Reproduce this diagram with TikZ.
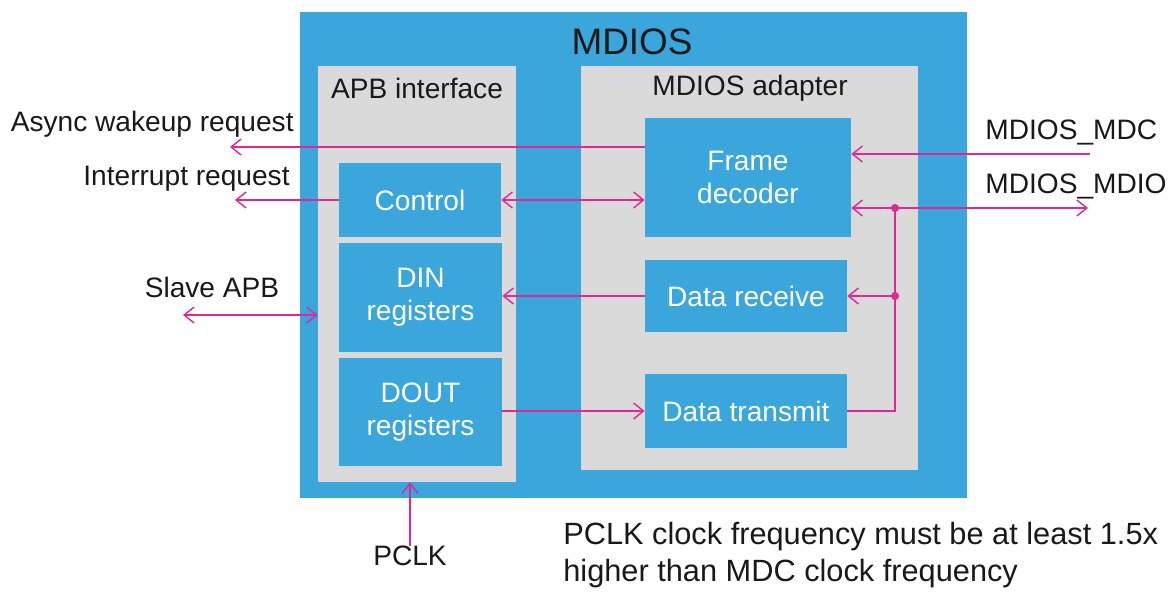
\documentclass[tikz,border=0pt]{standalone}
\usepackage{fontspec}
\setmainfont{Liberation Sans}
\usepackage{tikz}
\usetikzlibrary{calc,arrows,arrows.meta}
\definecolor{stblue}{RGB}{58,166,220}
\definecolor{stgrey}{RGB}{218,218,218}
\definecolor{sigpink}{RGB}{222,40,150}
\definecolor{txtdark}{RGB}{25,25,25}

\begin{document}
\begin{tikzpicture}[x=0.02cm,y=-0.02cm,
    blk/.style={fill=stblue,text=white,align=center,inner sep=0pt,
      font=\fontsize{16}{19}\selectfont},
    panel/.style={fill=stgrey,inner sep=0pt},
    lbl/.style={text=txtdark,inner sep=0pt,font=\fontsize{16}{19}\selectfont},
    sig/.style={draw=sigpink,line width=0.8pt},
    >={Straight Barb[length=2mm,width=3.2mm]}]
              \useasboundingbox (0,0) rectangle (1171,592);
              % outer block and the two panels
              \node[fill=stblue,inner sep=0pt,minimum width=13.34cm,minimum height=9.72cm](mdios)at(633.5,255){};
              \node[panel,minimum width=3.96cm,minimum height=8.32cm](apbif)at(417,274){};
              \node[panel,minimum width=6.74cm,minimum height=8.08cm](adapter)at(749.5,268){};
              \node[text=txtdark,font=\fontsize{21}{24}\selectfont](title)at(632,42){MDIOS};
              \node[lbl](apbtitle)at(417,88){APB interface};
              \node[lbl](adtitle)at(750,88){MDIOS adapter};
              % APB side
              \node[blk,minimum width=3.24cm,minimum height=1.48cm](control)at(420,200){Control};
              \node[blk,minimum width=3.26cm,minimum height=2.18cm](din)at(420.5,297.5){DIN\\registers};
              \node[blk,minimum width=3.26cm,minimum height=2.16cm](dout)at(420.5,412){DOUT\\registers};
              % adapter side
              \node[blk,minimum width=4.12cm,minimum height=2.38cm](frame)at(748,177.5){Frame\\decoder};
              \node[blk,minimum width=4.04cm,minimum height=1.44cm](receive)at(746,296){Data receive};
              \node[blk,minimum width=4.04cm,minimum height=1.48cm](transmit)at(746,411){Data transmit};
              % outside labels
              \node[lbl,anchor=east](wakelbl)at(294,124){Async wakeup request};
              \node[lbl,anchor=east](irqlbl)at(290,179){Interrupt request};
              \node[lbl](apblbl)at(212,287){Slave APB};
              \node[lbl,anchor=west](mdclbl)at(985,132){MDIOS\_MDC};
              \node[lbl,anchor=west](mdiolbl)at(985,186){MDIOS\_MDIO};
              \node[lbl](pclk)at(410,556){PCLK};
              \node[lbl,anchor=west,align=left,font=\fontsize{17.5}{21}\selectfont](note)at(563,555){PCLK clock frequency must be at least 1.5x\\higher than MDC clock frequency};
              % signal ends
              \coordinate (wakeup) at (230,147);
              \coordinate (irq) at (235,200);
              \coordinate (apb) at (183,315);
              \coordinate (mdc) at (1090,154);
              \coordinate (mdio) at (1088,208);
              \coordinate (tap) at (895,208);
              % signals
              \draw[sig,->] (frame.west |- wakeup) -- (wakeup);
              \draw[sig,->] (control.west) -- (irq);
              \draw[sig,<->] (control.east) -- (frame.west |- control.east);
              \draw[sig,<->] (apb) -- (apb -| apbif.west);
              \draw[sig,->] (receive.west) -- (receive.west -| din.east);
              \draw[sig,->] (dout.east |- transmit.west) -- (transmit.west);
              \draw[sig,->] (mdc) -- (mdc -| frame.east);
              \draw[sig,<->] (frame.east |- mdio) -- (mdio);
              \draw[sig,->] (tap |- receive.east) -- (receive.east);
              \draw[sig] (transmit.east) -| (tap);
              \fill[sigpink] (tap) circle (2.3pt);
              \fill[sigpink] (tap |- receive.east) circle (2.3pt);
              \draw[sig,->] (pclk.north) -- (pclk.north |- apbif.south);
            \end{tikzpicture}
\end{document}
